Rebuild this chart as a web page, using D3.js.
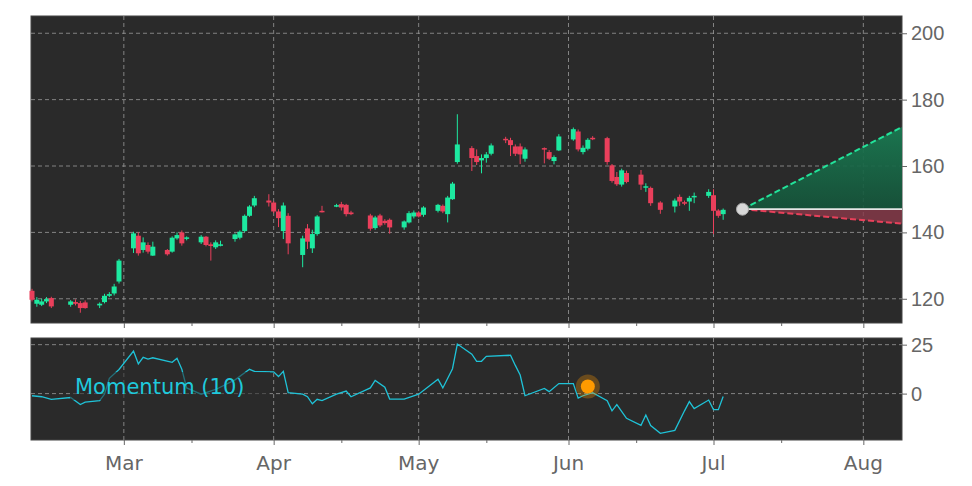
<!DOCTYPE html>
<html><head><meta charset="utf-8">
<script src="https://cdn.jsdelivr.net/npm/d3@7"></script>
<style>body{margin:0;background:#fff}svg{font-family:"DejaVu Sans",sans-serif}</style>
</head><body><svg id="c" width="972" height="486"></svg>
<script>
// candles: date, open, high, low, close
const dates = ['2025-02-10','2025-02-11','2025-02-12','2025-02-13','2025-02-14','2025-02-18','2025-02-19','2025-02-20','2025-02-21','2025-02-24','2025-02-25','2025-02-26','2025-02-27','2025-02-28',
  '2025-03-03','2025-03-04','2025-03-05','2025-03-06','2025-03-07','2025-03-10','2025-03-11','2025-03-12','2025-03-13','2025-03-14','2025-03-17','2025-03-18','2025-03-19','2025-03-20','2025-03-21','2025-03-24','2025-03-25','2025-03-26','2025-03-27','2025-03-28','2025-03-31',
  '2025-04-01','2025-04-02','2025-04-03','2025-04-04','2025-04-07','2025-04-08','2025-04-09','2025-04-10','2025-04-11','2025-04-14','2025-04-15','2025-04-16','2025-04-17','2025-04-21','2025-04-22','2025-04-23','2025-04-24','2025-04-25','2025-04-28','2025-04-29','2025-04-30',
  '2025-05-01','2025-05-02','2025-05-05','2025-05-06','2025-05-07','2025-05-08','2025-05-09','2025-05-12','2025-05-13','2025-05-14','2025-05-15','2025-05-16','2025-05-19','2025-05-20','2025-05-21','2025-05-22','2025-05-23','2025-05-27','2025-05-28','2025-05-29','2025-05-30',
  '2025-06-02','2025-06-03','2025-06-04','2025-06-05','2025-06-06','2025-06-09','2025-06-10','2025-06-11','2025-06-12','2025-06-13','2025-06-16','2025-06-17','2025-06-18','2025-06-20','2025-06-23','2025-06-24','2025-06-25','2025-06-26','2025-06-27','2025-06-30',
  '2025-07-01','2025-07-02','2025-07-03'];
const opens  = [122.4,118.5,118.2,119.2,120.2,118.2,119.0,118.7,118.9,118.0,119.0,120.9,121.6,125.2,
  135.2,139.0,134.7,136.2,133.0,134.7,134.2,138.2,140.0,138.2,137.0,138.7,136.4,135.5,136.1,138.0,138.4,140.4,145.0,148.1,149.6,
  149.0,146.3,140.4,145.0,133.2,141.2,135.2,139.5,146.5,147.9,148.5,148.3,146.0,145.1,141.3,145.1,143.5,143.8,141.5,143.0,144.8,
  146.0,145.3,146.5,148.0,145.5,150.0,161.2,165.4,163.0,161.7,162.4,163.7,168.2,167.8,165.9,165.9,162.2,165.4,164.2,161.5,164.7,
  168.0,170.4,164.2,165.2,168.5,168.4,160.2,156.7,154.4,157.9,157.4,153.6,153.4,149.0,147.8,150.7,149.1,149.3,150.6,151.0,
  151.2,146.6,145.5];
const closes = [119.7,119.7,119.2,119.9,117.7,119.2,118.5,117.2,117.2,118.5,120.9,121.4,123.7,131.5,
  139.7,133.7,137.0,134.2,135.7,133.4,138.4,139.2,136.7,138.5,138.7,136.2,135.9,137.0,136.4,139.4,140.2,145.0,147.8,150.3,149.0,
  146.3,144.3,148.1,136.7,138.2,137.2,139.5,144.8,146.3,148.2,147.5,145.5,145.5,141.1,144.5,142.1,142.8,141.5,143.3,145.8,146.0,
  144.8,147.5,148.3,146.3,150.5,154.7,166.5,162.4,161.2,162.4,163.5,166.2,167.8,166.3,163.7,163.5,165.0,165.0,162.2,162.7,168.9,
  171.1,165.0,165.5,167.9,168.1,161.2,155.5,154.5,158.7,155.2,154.4,153.9,148.8,146.8,149.6,149.3,148.7,150.4,151.0,152.2,
  146.5,145.0,146.8];
const highs  = [123.0,120.5,120.0,120.5,120.6,119.6,119.8,119.3,119.5,118.9,121.5,122.0,124.5,132.0,
  140.2,140.0,138.5,137.0,137.2,135.0,138.8,140.0,140.6,138.8,139.2,138.9,137.0,137.6,137.5,139.7,140.6,145.4,148.2,151.0,151.5,
  149.4,147.0,149.0,145.8,139.0,142.5,140.8,145.2,148.0,148.6,149.2,148.6,146.5,145.6,145.0,145.6,144.0,144.2,143.6,146.4,146.6,
  146.4,147.9,148.6,148.4,151.0,155.2,175.6,166.0,165.0,163.5,164.2,166.8,168.8,168.5,166.5,166.8,165.6,165.6,164.8,163.2,169.6,
  171.6,171.0,166.2,168.4,169.0,168.8,160.6,158.2,159.2,158.6,158.8,154.8,153.8,149.4,150.2,151.4,149.6,151.0,152.0,153.0,
  153.0,147.0,147.2];
const lows   = [119.2,117.6,117.8,118.7,117.2,117.6,118.0,115.8,117.0,117.2,118.6,120.5,121.0,124.6,
  133.8,133.0,133.9,133.6,132.9,133.0,133.9,137.8,136.0,137.6,136.5,135.8,131.5,135.0,135.8,137.2,137.9,140.0,144.7,147.6,147.8,
  145.8,141.6,138.0,133.4,129.5,135.0,133.8,139.0,146.0,147.6,146.6,144.8,145.2,140.5,140.8,141.6,142.3,139.6,140.8,142.7,144.2,
  144.5,144.7,146.0,145.8,143.0,149.8,160.7,158.5,160.3,157.8,161.0,163.2,166.9,163.0,163.0,160.6,161.3,160.8,161.8,160.5,164.5,
  167.6,164.4,163.5,164.7,167.8,160.4,155.0,154.0,153.8,154.8,152.8,152.2,148.0,145.6,146.0,148.0,148.2,146.5,148.8,150.4,
  139.5,144.4,143.8];

// momentum (10)
const momDates = ['2025-02-10','2025-02-12','2025-02-14','2025-02-18','2025-02-20','2025-02-21','2025-02-24','2025-02-25','2025-02-26','2025-02-28',
  '2025-03-03','2025-03-04','2025-03-05','2025-03-06','2025-03-07','2025-03-11','2025-03-12','2025-03-13','2025-03-14','2025-03-17','2025-03-20','2025-03-24','2025-03-27','2025-03-28',
  '2025-04-01','2025-04-02','2025-04-03','2025-04-04','2025-04-07','2025-04-08','2025-04-09','2025-04-10','2025-04-11','2025-04-14','2025-04-16','2025-04-17','2025-04-21','2025-04-22','2025-04-24','2025-04-25','2025-04-28',
  '2025-05-01','2025-05-05','2025-05-06','2025-05-08','2025-05-09','2025-05-12','2025-05-13','2025-05-14','2025-05-15','2025-05-20','2025-05-21','2025-05-22','2025-05-23','2025-05-27','2025-05-28','2025-05-30',
  '2025-06-02','2025-06-03','2025-06-04','2025-06-06','2025-06-09','2025-06-10','2025-06-11','2025-06-13','2025-06-16','2025-06-17','2025-06-18','2025-06-20','2025-06-23','2025-06-25','2025-06-26','2025-06-27','2025-06-30',
  '2025-07-01','2025-07-02','2025-07-03'];
const momValues = [-1.1,-1.6,-2.9,-2.0,-5.6,-4.4,-3.6,-0.3,7.8,12.3,
  21.7,15.2,18.5,17.6,18.3,16.0,18.0,12.4,2.9,-0.3,2.1,7.0,12.4,11.4,
  11.1,8.7,11.4,0.5,-0.3,-1.6,-5.2,-2.9,-3.6,-0.3,1.3,-1.6,2.9,6.7,3.3,-2.8,-2.8,
  -0.3,7.4,2.9,12.7,25.3,20.1,16.5,16.5,19.0,19.6,14.4,9.5,-1.1,2.6,1.0,5.1,
  5.1,-2.3,-1.1,0.5,-3.6,-8.8,-5.6,-12.6,-16.2,-10.9,-16.3,-20.3,-18.8,-8.8,-4.1,-7.7,-3.3,
  -8.2,-8.2,-1.5];
const momMarker = {date: '2025-06-05', value: 3.6};

// projection
const projStart = {date: '2025-07-07', value: 147};
const projEnd = {date: '2025-08-10', upper: 172.5, base: 147, lower: 142.5};

const priceTicks = [120, 140, 160, 180, 200];
const momTicks = [0, 25];
const monthTicks = ['2025-03-01','2025-04-01','2025-05-01','2025-06-01','2025-07-01','2025-08-01'];
const midTicks = ['2025-03-15','2025-04-15','2025-05-15','2025-06-15','2025-07-15'];

const parse = d3.utcParse('%Y-%m-%d');
const svg = d3.select('#c');
const L = 31, R = 902, mainTop = 16, mainBot = 323, momTop = 338, momBot = 440;
const up = '#1de9a0', down = '#ea3f5b', grid = '#9a9a9a', axisCol = '#666';

const x = d3.scaleUtc().domain([parse('2025-02-10'), parse('2025-08-09')]).range([L + 1, R]);
const y = d3.scaleLinear().domain([112.7, 205.2]).range([mainBot, mainTop]);
const ym = d3.scaleLinear().domain([-23.7, 28.4]).range([momBot, momTop]);

function panel (top, bot, yScale, ticks) {
  const g = svg.append('g');
  g.append('rect').attr('x', L).attr('y', top).attr('width', R - L).attr('height', bot - top)
    .attr('fill', '#2a2a2a').attr('stroke', '#444');
  g.selectAll('.hg').data(ticks).join('line')
    .attr('x1', L).attr('x2', R).attr('y1', d => yScale(d)).attr('y2', d => yScale(d))
    .attr('stroke', grid).attr('stroke-dasharray', '4,3').attr('stroke-width', 0.8);
  g.selectAll('.vg').data(monthTicks.map(parse)).join('line')
    .attr('x1', d => x(d)).attr('x2', d => x(d)).attr('y1', top).attr('y2', bot)
    .attr('stroke', grid).attr('stroke-dasharray', '4,3').attr('stroke-width', 0.8);
  // right axis
  const ax = d3.axisRight(yScale).tickValues(ticks).tickSize(5).tickPadding(4);
  const a = svg.append('g').attr('transform', `translate(${R},0)`).call(ax);
  a.select('.domain').remove();
  a.selectAll('line').attr('stroke', axisCol);
  a.selectAll('text').attr('fill', axisCol).style('font-size', '20px');
  // bottom ticks
  const bx = svg.append('g').attr('transform', `translate(0,${bot})`)
    .call(d3.axisBottom(x).tickValues(monthTicks.map(parse)).tickSize(5).tickFormat(''));
  bx.select('.domain').remove();
  bx.selectAll('line').attr('stroke', axisCol);
  const mx = svg.append('g').attr('transform', `translate(0,${bot})`)
    .call(d3.axisBottom(x).tickValues(midTicks.map(parse)).tickSize(3).tickFormat(''));
  mx.select('.domain').remove();
  mx.selectAll('line').attr('stroke', axisCol);
  return g;
}

panel(mainTop, mainBot, y, priceTicks);
panel(momTop, momBot, ym, momTicks);

// candles
const candles = dates.map((d, i) => ({ d: parse(d), o: opens[i], h: highs[i], l: lows[i], c: closes[i] }));
const cg = svg.append('g');
cg.selectAll('line').data(candles).join('line')
  .attr('x1', d => x(d.d)).attr('x2', d => x(d.d)).attr('y1', d => y(d.h)).attr('y2', d => y(d.l))
  .attr('stroke', d => d.c >= d.o ? up : down).attr('stroke-width', 1);
cg.selectAll('rect').data(candles).join('rect')
  .attr('x', d => x(d.d) - 2.5).attr('width', 5)
  .attr('y', d => y(Math.max(d.o, d.c)))
  .attr('height', d => Math.max(1.5, Math.abs(y(d.o) - y(d.c))))
  .attr('fill', d => d.c >= d.o ? up : down);

// projection
const x0 = x(parse(projStart.date)), x1 = x(parse(projEnd.date));
const defs = svg.append('defs');
const gr = defs.append('linearGradient').attr('id', 'gup').attr('x1', 0).attr('x2', 0).attr('y1', 0).attr('y2', 1);
gr.append('stop').attr('offset', 0).attr('stop-color', '#1a7a52').attr('stop-opacity', 0.95);
gr.append('stop').attr('offset', 1).attr('stop-color', '#15543a').attr('stop-opacity', 0.9);
const clip = defs.append('clipPath').attr('id', 'clipMain');
clip.append('rect').attr('x', L).attr('y', mainTop).attr('width', R - L).attr('height', mainBot - mainTop);
const pg = svg.append('g').attr('clip-path', 'url(#clipMain)');
pg.append('path').attr('d', `M${x0},${y(projStart.value)}L${x1},${y(projEnd.upper)}L${x1},${y(projEnd.base)}Z`)
  .attr('fill', 'url(#gup)');
pg.append('path').attr('d', `M${x0},${y(projStart.value)}L${x1},${y(projEnd.base)}L${x1},${y(projEnd.lower)}Z`)
  .attr('fill', '#8a3a4a').attr('opacity', 0.8);
pg.append('line').attr('x1', x0).attr('x2', x1).attr('y1', y(projStart.value)).attr('y2', y(projEnd.upper))
  .attr('stroke', '#22e39a').attr('stroke-width', 2).attr('stroke-dasharray', '6,3');
pg.append('line').attr('x1', x0).attr('x2', x1).attr('y1', y(projStart.value)).attr('y2', y(projEnd.lower))
  .attr('stroke', '#e8405a').attr('stroke-width', 2).attr('stroke-dasharray', '6,3');
pg.append('line').attr('x1', x0).attr('x2', x1).attr('y1', y(projStart.value)).attr('y2', y(projEnd.base))
  .attr('stroke', '#e6e6e6').attr('stroke-width', 1.8);
svg.append('circle').attr('cx', x0).attr('cy', y(projStart.value)).attr('r', 6)
  .attr('fill', '#d8d8d8').attr('stroke', '#aaa');

// momentum
const mom = momDates.map((d, i) => ({ d: parse(d), v: momValues[i] }));
svg.append('path').datum(mom)
  .attr('d', d3.line().x(d => x(d.d)).y(d => ym(d.v)))
  .attr('fill', 'none').attr('stroke', '#1fc3d8').attr('stroke-width', 1.3);
const lbl = svg.append('g');
lbl.append('rect').attr('x', 70).attr('y', 372).attr('width', 200).attr('height', 28)
  .attr('fill', '#2a2a2a').attr('opacity', 0.55);
lbl.append('text').attr('x', 75).attr('y', 394).text('Momentum (10)')
  .attr('fill', '#1fc9dc').style('font-size', '21px');
const mxp = x(parse(momMarker.date)), myp = ym(momMarker.value);
svg.append('circle').attr('cx', mxp).attr('cy', myp).attr('r', 12).attr('fill', '#ff9800').attr('opacity', 0.3);
svg.append('circle').attr('cx', mxp).attr('cy', myp).attr('r', 7).attr('fill', '#ff9a00');

// month labels
svg.append('g').selectAll('text').data(monthTicks.map(parse)).join('text')
  .attr('x', d => x(d)).attr('y', 470).attr('text-anchor', 'middle')
  .attr('fill', axisCol).style('font-size', '20px')
  .text(d3.utcFormat('%b'));
</script></body></html>
